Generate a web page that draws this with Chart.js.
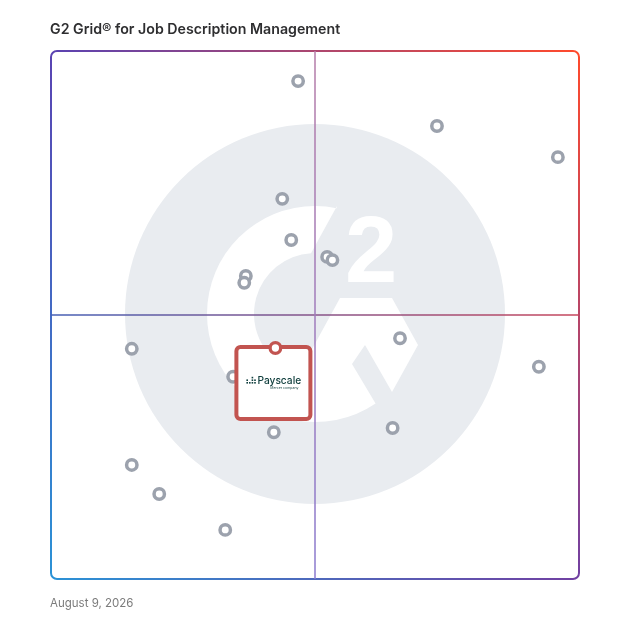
<!DOCTYPE html>
<html>
<head>
<meta charset="utf-8">
<script src="https://cdn.jsdelivr.net/npm/chart.js@4/dist/chart.umd.min.js"></script>
<style>
  body { margin: 0; background: #fff; }
  #wrap { position: relative; width: 628px; height: 628px; }
  #title { position: absolute; left: 50px; top: 20px; font: 600 14.2px Inter, "Open Sans", sans-serif; color: #2e2e30; white-space: nowrap; }
  #date { position: absolute; left: 50px; top: 596px; font: 400 11.5px Inter, "Open Sans", sans-serif; color: #7b7b7b; }
</style>
</head>
<body>
<div id="wrap">
  <canvas id="grid" width="628" height="628"></canvas>
  <div id="title">G2 Grid® for Job Description Management</div>
  <div id="date">August 9, 2026</div>
</div>
<script>
// satisfaction (x) and market presence (y), 0-100
const otherX = [46.8, 73.1, 96.0, 43.8, 45.5, 52.3, 53.3, 36.9, 36.6, 15.3, 66.1, 92.4, 34.5, 42.2, 64.7, 15.3, 20.5, 33.0];
const otherY = [94.3, 85.8, 79.9, 72.0, 64.2, 61.0, 60.4, 57.4, 56.1, 43.6, 45.6, 40.2, 38.3, 27.8, 28.6, 21.6, 16.1, 9.3];
const featuredName = 'Payscale';
const featuredX = [42.5];
const featuredY = [43.75];

const ringGray = '#9ca2ad';
const ringRed = '#c25450';

// G2 logo watermark behind the dots
const watermark = {
  id: 'watermark',
  beforeDatasetsDraw(chart) {
    const { ctx, chartArea: a } = chart;
    const cx = (a.left + a.right) / 2, cy = (a.top + a.bottom) / 2 - 1;
    const s = (a.right - a.left) / 528;
    const P = (dx, dy) => [cx + dx * s, cy + dy * s];
    ctx.save();
    ctx.fillStyle = '#e9ecf0';
    ctx.beginPath();
    ctx.arc(cx, cy, 190 * s, 0, Math.PI * 2);
    ctx.fill();

    ctx.fillStyle = '#fff';
    ctx.beginPath();
    ctx.moveTo(...P(22, -108));
    ctx.arc(cx, cy, 108 * s, Math.atan2(-108, 22), Math.atan2(90, 61), true);
    [[37, 50], [50, 31], [77, 78], [103, 31], [77, -16], [25, -16], [-16, 59]]
      .forEach(p => ctx.lineTo(...P(p[0], p[1])));
    ctx.arc(cx, cy, 61 * s, Math.atan2(59, -16), Math.atan2(-61, -4), false);
    ctx.closePath();
    ctx.fill();

    ctx.font = 'bold ' + (94 * s) + 'px "Liberation Sans", Arial, sans-serif';
    ctx.textBaseline = 'alphabetic';
    ctx.fillText('2', ...P(30, -32));
    ctx.restore();
  }
};

// gradient frame + quadrant lines
const frame = {
  id: 'frame',
  beforeDatasetsDraw(chart) {
    const { ctx, chartArea: a } = chart;
    const l = a.left, t = a.top, r = a.right, b = a.bottom, rad = 6;
    const TL = '#5a43b2', TR = '#ff4a2c', BR = '#7140a2', BL = '#2b92d6';
    const grad = (x0, y0, x1, y1, c0, c1) => {
      const g = ctx.createLinearGradient(x0, y0, x1, y1);
      g.addColorStop(0, c0); g.addColorStop(1, c1);
      return g;
    };
    ctx.save();
    ctx.lineWidth = 2;

    ctx.strokeStyle = grad(l, t, r, t, TL, TR);
    ctx.beginPath();
    ctx.moveTo(l, t + rad); ctx.arcTo(l, t, l + rad, t, rad);
    ctx.lineTo(r - rad, t); ctx.arcTo(r, t, r, t + rad, rad);
    ctx.stroke();

    ctx.strokeStyle = grad(r, t, r, b, TR, BR);
    ctx.beginPath(); ctx.moveTo(r, t + rad); ctx.lineTo(r, b - rad); ctx.stroke();

    ctx.strokeStyle = grad(l, b, r, b, BL, BR);
    ctx.beginPath();
    ctx.moveTo(l, b - rad); ctx.arcTo(l, b, l + rad, b, rad);
    ctx.lineTo(r - rad, b); ctx.arcTo(r, b, r, b - rad, rad);
    ctx.stroke();

    ctx.strokeStyle = grad(l, t, l, b, TL, BL);
    ctx.beginPath(); ctx.moveTo(l, t + rad); ctx.lineTo(l, b - rad); ctx.stroke();

    const mx = chart.scales.x.getPixelForValue(50);
    const my = chart.scales.y.getPixelForValue(50);
    ctx.lineWidth = 1.5;
    ctx.strokeStyle = grad(l, my, r, my, '#4660b5', '#c6465c');
    ctx.beginPath(); ctx.moveTo(l, my); ctx.lineTo(r, my); ctx.stroke();
    ctx.strokeStyle = grad(mx, t, mx, b, '#b57ca8', '#8a7ace');
    ctx.beginPath(); ctx.moveTo(mx, t); ctx.lineTo(mx, b); ctx.stroke();
    ctx.restore();
  }
};

// label card for the featured product, drawn between the gray dots and its red dot
const card = {
  id: 'card',
  afterDatasetDraw(chart, args) {
    if (args.index !== 1) return;
    const { ctx } = chart;
    const px = chart.scales.x.getPixelForValue(featuredX[0]);
    const py = chart.scales.y.getPixelForValue(featuredY[0]);
    ctx.save();
    ctx.beginPath();
    ctx.roundRect(px - 39, py - 1, 74, 72, 4);
    ctx.fillStyle = '#fff';
    ctx.fill();
    ctx.lineWidth = 4;
    ctx.strokeStyle = ringRed;
    ctx.stroke();

    ctx.fillStyle = '#12403f';
    const cols = [[0, 2], [2.6, 1], [5.2, 3], [7.8, 2]];
    cols.forEach(([ox, n]) => {
      for (let k = 0; k < n; k++) ctx.fillRect(px - 29 + ox, py + 34 - k * 2.6, 1.6, 1.6);
    });
    ctx.font = '500 10.2px Inter, "Open Sans", sans-serif';
    ctx.textBaseline = 'alphabetic';
    ctx.fillText(featuredName, px - 18, py + 36);
    ctx.font = '3.5px Inter, sans-serif';
    ctx.textAlign = 'right';
    ctx.fillText('Mercer company', px + 23, py + 41);
    ctx.restore();
  }
};

new Chart(document.getElementById('grid'), {
  type: 'scatter',
  data: {
    datasets: [
      {
        label: featuredName,
        data: featuredX.map((x, i) => ({ x, y: featuredY[i] })),
        pointRadius: 5.3,
        borderWidth: 3.3,
        borderColor: ringRed,
        backgroundColor: '#fff'
      },
      {
        label: 'Other products',
        data: otherX.map((x, i) => ({ x, y: otherY[i] })),
        pointRadius: 5.2,
        borderWidth: 3.5,
        borderColor: ringGray,
        backgroundColor: '#fff'
      }
    ]
  },
  options: {
    responsive: false,
    animation: false,
    events: [],
    layout: { padding: { left: 51, right: 49, top: 51, bottom: 49 } },
    scales: {
      x: { min: 0, max: 100, display: false },
      y: { min: 0, max: 100, display: false }
    },
    plugins: { legend: { display: false }, tooltip: { enabled: false } }
  },
  plugins: [watermark, frame, card]
});
</script>
</body>
</html>
